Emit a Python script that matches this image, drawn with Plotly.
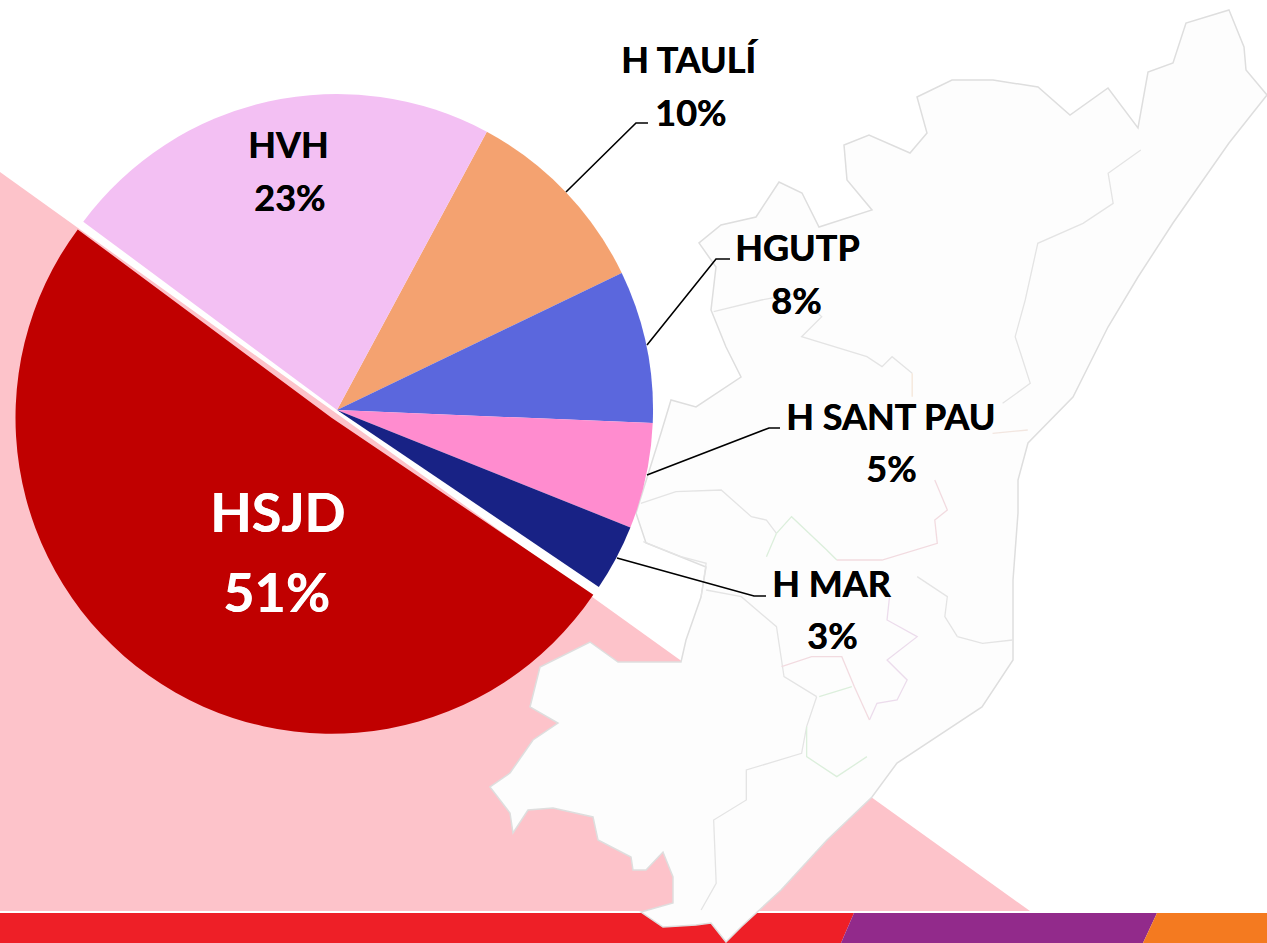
import plotly.graph_objects as go

# ---- chart data ----
hospitals = ["H TAULÍ", "HGUTP", "H SANT PAU", "H MAR", "HSJD", "HVH"]
shares = [10.0, 7.8, 5.4, 3.4, 50.7, 22.7]
slice_colors = ["#f4a270", "#5b67dd", "#ff8ccf", "#182285", "#c00000", "#f3c0f3"]
pulls = [0, 0, 0, 0, 0.03, 0]

W, H = 1267, 943


def px(x):
    return x / W


def py(y):
    return 1 - y / H


def path(points, close=False):
    d = "M " + " L ".join(f"{px(x):.5f},{py(y):.5f}" for x, y in points)
    return d + (" Z" if close else "")


def z1(pts):  # reading scale of the upper crop
    return [(480 + x / 1.99, y / 3) for x, y in pts]


def z2(pts):  # reading scale of the lower crop
    return [(480 + x / 1.99, 480 + y / 3) for x, y in pts]


map_outline = [
    (1229, 10), (1244, 47), (1246, 70), (1267, 95), (1229, 143), (1173, 223), (1138, 277),
    (1108, 327), (1073, 397), (1028, 443), (1018, 480), (1018, 513), (1013, 580), (1013, 660),
    (982, 707), (897, 763), (872, 797), (827, 840), (781, 890), (741, 927), (726, 942),
    (711, 923), (696, 925), (663, 927), (641, 912), (673, 903), (673, 877), (663, 852),
    (646, 870), (633, 870), (631, 857), (598, 840), (593, 817), (553, 808), (528, 810),
    (513, 833), (510, 813), (490, 787), (510, 773), (533, 740), (558, 723), (530, 707),
    (540, 667), (590, 642), (618, 662), (681, 662), (686, 640), (701, 597), (706, 567),
    (646, 543), (636, 513), (661, 433), (671, 400), (696, 407), (741, 377), (726, 347),
    (711, 310), (716, 267), (699, 243), (721, 225), (756, 217), (779, 182), (802, 193),
    (819, 227), (872, 210), (847, 180), (844, 145), (869, 135), (910, 153), (927, 133),
    (917, 97), (952, 80), (993, 80), (1038, 87), (1070, 115), (1108, 88), (1138, 128),
    (1148, 72), (1173, 63), (1186, 23),
]

grey_lines = [
    z1([(1315, 450), (1250, 520), (1260, 610), (1200, 670), (1110, 730), (1085, 900), (1065, 1010),
        (1095, 1150), (1040, 1210)]),
    z1([(465, 935), (560, 900), (630, 880), (680, 950), (640, 1010), (770, 1070), (800, 1100),
        (820, 1070), (860, 1120)]),
    z2([(320, 70), (390, 35), (480, 30), (540, 110), (570, 120), (590, 160)]),
    z2([(325, 185), (400, 230), (450, 250), (440, 350)]),
    z2([(450, 330), (520, 350), (590, 440), (605, 590), (670, 650)]),
    z2([(670, 650), (650, 740), (640, 820), (530, 870), (530, 960), (465, 1020), (470, 1210), (440, 1290)]),
    z2([(950, 470), (1000, 490), (1060, 480)]),
    z2([(870, 290), (930, 350), (925, 410), (950, 470)]),
]
tinted_lines = [
    ("#dcefdc", z2([(590, 160), (620, 110), (690, 210), (710, 240)])),
    ("#dcefdc", z2([(570, 230), (590, 160)])),
    ("#dcefdc", z2([(675, 650), (740, 620)])),
    ("#dcefdc", z2([(650, 740), (650, 830), (710, 890), (770, 830)])),
    ("#ecdcec", z2([(775, 720), (790, 670), (830, 660), (850, 600), (810, 540), (870, 470), (810, 420), (815, 350)])),
    ("#f2dbe0", z2([(710, 240), (800, 240), (910, 190), (905, 120), (930, 90), (905, 0)])),
    ("#f2dbe0", z2([(600, 560), (660, 530), (720, 530), (745, 620), (775, 720)])),
    ("#f4e6d8", z1([(860, 1120), (860, 1190)])),
    ("#f2e6e0", z1([(1020, 1300), (1090, 1290)])),
]

shapes = [
    dict(type="path", path=path([(0, 172), (1030, 911), (0, 911)], True),
         fillcolor="#fdc3ca", line_width=0, layer="below"),
    dict(type="path", path=path([(0, 913), (854, 913), (841, 943), (0, 943)], True),
         fillcolor="#ee1f27", line_width=0, layer="below"),
    dict(type="path", path=path([(854, 913), (1157, 913), (1143, 943), (841, 943)], True),
         fillcolor="#922a8b", line_width=0, layer="below"),
    dict(type="path", path=path([(1157, 913), (1267, 913), (1267, 943), (1143, 943)], True),
         fillcolor="#f47a20", line_width=0, layer="below"),
    dict(type="path", path=path(map_outline, True), fillcolor="#fdfdfd",
         line=dict(color="#dedede", width=1.5), layer="below"),
]
for pts in grey_lines:
    shapes.append(dict(type="path", path=path(pts), line=dict(color="#e4e4e4", width=1.3), layer="below"))
for colour, pts in tinted_lines:
    shapes.append(dict(type="path", path=path(pts), line=dict(color=colour, width=1.3), layer="below"))

leaders = [
    [(566, 192), (636, 123), (648, 123)],
    [(647, 345), (716, 259), (730, 259)],
    [(647, 475), (769, 428), (780, 428)],
    [(617, 558), (754, 596), (766, 596)],
]
for pts in leaders:
    shapes.append(dict(type="path", path=path(pts), line=dict(color="#000000", width=1.6)))

label_spots = {
    "H TAULÍ": ((689, 59), (690, 112)),
    "HGUTP": ((798, 247), (796, 300)),
    "H SANT PAU": ((890, 416), (891, 468)),
    "H MAR": ((832, 583), (832, 635)),
    "HVH": ((288, 144), (289, 197)),
    "HSJD": ((277, 511), (276, 591)),
}

total = sum(shares)
annotations = []
for name, share in zip(hospitals, shares):
    big = name == "HSJD"
    ink = "#ffffff" if big else "#000000"
    font = dict(family="Lato, Carlito, sans-serif", size=54 if big else 36, color=ink, weight="bold",
                shadow=f"0.5px 0 0 {ink}")
    name_xy, pct_xy = label_spots[name]
    for text, (x, y) in ((f"<b>{name}</b>", name_xy), (f"<b>{share / total:.0%}</b>", pct_xy)):
        annotations.append(dict(text=text, x=px(x), y=py(y), xref="paper", yref="paper",
                                xanchor="center", yanchor="middle", showarrow=False, font=font))

fig = go.Figure(go.Pie(
    labels=hospitals,
    values=shares,
    sort=False,
    direction="clockwise",
    rotation=28.3,
    pull=pulls,
    textinfo="none",
    hoverinfo="label+percent",
    marker=dict(colors=slice_colors, line=dict(width=0)),
    domain=dict(x=[px(11.5), px(662.5)], y=[py(735.5), py(84.5)]),
))
fig.update_layout(
    width=W, height=H, margin=dict(l=0, r=0, t=0, b=0, autoexpand=False),
    showlegend=False, paper_bgcolor="#ffffff", plot_bgcolor="#ffffff",
    shapes=shapes, annotations=annotations,
)
fig.write_html("out.html", config=dict(displayModeBar=False), post_script="document.body.style.margin='0';")
